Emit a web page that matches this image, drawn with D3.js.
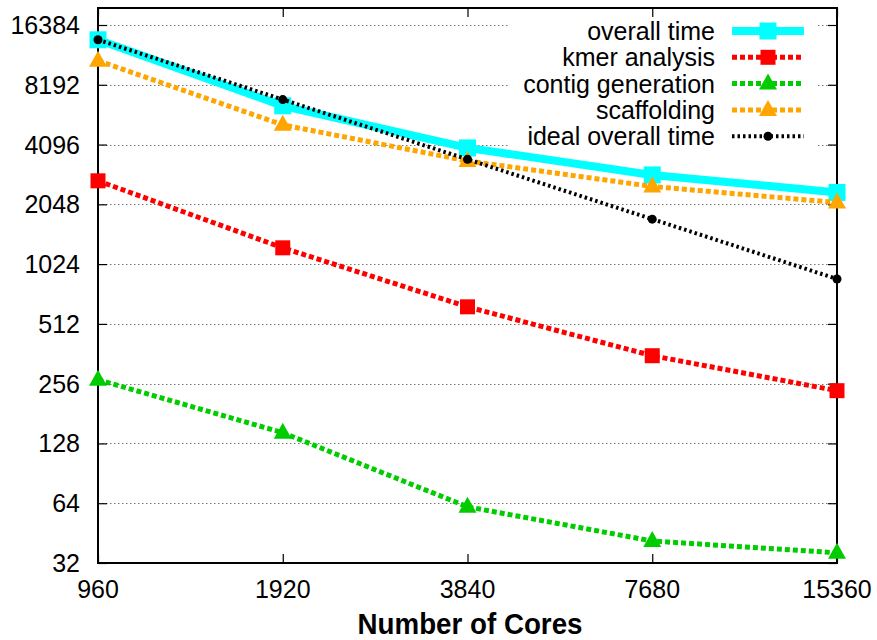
<!doctype html>
<html>
<head>
<meta charset="utf-8">
<title>Scaling by number of cores</title>
<script src="https://d3js.org/d3.v7.min.js"></script>
<style>
  body { margin: 0; background: #fff; }
  text { font-family: "Liberation Sans", Arial, Helvetica, sans-serif; fill: #000; }
</style>
</head>
<body>
<script>

// data
const cores = [960, 1920, 3840, 7680, 15360];
const overallTime = [13800, 6420, 3940, 2880, 2350];
const kmerAnalysis = [2690, 1237, 624, 354, 236];
const contigGeneration = [268, 145, 61.4, 41.3, 36];
const scaffolding = [10830, 5146, 3386, 2520, 2090];
const idealOverall = [13800, 6900, 3450, 1725, 862];
const yTicks = [32, 64, 128, 256, 512, 1024, 2048, 4096, 8192, 16384];

const series = [
  {name: "overall time", values: overallTime, color: "#00ffff", width: 8, dash: null, mark: "bigsquare"},
  {name: "kmer analysis", values: kmerAnalysis, color: "#ff0000", width: 5, dash: "5,3", mark: "square"},
  {name: "contig generation", values: contigGeneration, color: "#00cc00", width: 5, dash: "5,3", mark: "triangle"},
  {name: "scaffolding", values: scaffolding, color: "#ffa500", width: 5, dash: "5,3", mark: "triangle"},
  {name: "ideal overall time", values: idealOverall, color: "#000000", width: 4, dash: "2.5,3", mark: "circle"}
];

const w = 877, h = 640;
const plotL = 98, plotR = 837, plotT = 8, plotB = 563;

const svg = d3.select("body").append("svg")
  .attr("width", w)
  .attr("height", h);

const x = d3.scaleLog().base(2)
  .domain([960, 15360])
  .range([plotL, plotR]);

const y = d3.scaleLog().base(2)
  .domain([32, 16384])
  .range([plotB, 25]);

// dotted grid
svg.append("g")
  .selectAll("line")
  .data(yTicks.slice(1))
  .enter()
  .append("line")
  .attr("x1", plotL).attr("x2", plotR)
  .attr("y1", d => Math.round(y(d)) + 0.5)
  .attr("y2", d => Math.round(y(d)) + 0.5)
  .style("stroke", "#777")
  .style("stroke-width", 1)
  .style("stroke-dasharray", "1.5,2.5");

// the key hides the grid behind it
svg.append("rect")
  .attr("x", 510).attr("y", 13)
  .attr("width", 308).attr("height", 137)
  .style("fill", "#fff");

// left / right axes with inward ticks
const yAxisL = d3.axisRight(y).tickValues(yTicks).tickSize(9).tickFormat("");
const yAxisR = d3.axisLeft(y).tickValues(yTicks).tickSize(9).tickFormat("");
const xAxisB = d3.axisTop(x).tickValues(cores).tickSize(9).tickFormat("");
const xAxisT = d3.axisBottom(x).tickValues(cores).tickSize(9).tickFormat("");

svg.append("g").attr("transform", `translate(${plotL},0)`).call(yAxisL);
svg.append("g").attr("transform", `translate(${plotR},0)`).call(yAxisR);
svg.append("g").attr("transform", `translate(0,${plotB})`).call(xAxisB);
svg.append("g").attr("transform", `translate(0,${plotT})`).call(xAxisT);
svg.selectAll(".domain").remove();
svg.selectAll(".tick line").style("stroke", "#000").style("stroke-width", 1.2);

// frame
svg.append("rect")
  .attr("x", plotL).attr("y", plotT)
  .attr("width", plotR - plotL).attr("height", plotB - plotT)
  .style("fill", "none")
  .style("stroke", "#000")
  .style("stroke-width", 2);

// tick labels
svg.append("g")
  .selectAll("text")
  .data(yTicks)
  .enter()
  .append("text")
  .attr("x", 80)
  .attr("y", d => y(d) + 9)
  .attr("text-anchor", "end")
  .style("font-size", "25px")
  .text(d => d);

svg.append("g")
  .selectAll("text")
  .data(cores)
  .enter()
  .append("text")
  .attr("x", d => x(d))
  .attr("y", 598)
  .attr("text-anchor", "middle")
  .style("font-size", "25px")
  .text(d => d);

svg.append("text")
  .attr("x", 470)
  .attr("y", 634)
  .attr("text-anchor", "middle")
  .attr("textLength", 225)
  .attr("lengthAdjust", "spacingAndGlyphs")
  .style("font-size", "29px")
  .style("font-weight", "bold")
  .text("Number of Cores");

// markers
function drawMark(g, kind, cx, cy, color) {
  if (kind === "bigsquare") {
    g.append("rect").attr("x", cx - 8.5).attr("y", cy - 8.5)
      .attr("width", 17).attr("height", 17).style("fill", color);
  } else if (kind === "square") {
    g.append("rect").attr("x", cx - 7.5).attr("y", cy - 7.5)
      .attr("width", 15).attr("height", 15).style("fill", color);
  } else if (kind === "triangle") {
    g.append("path")
      .attr("d", `M${cx},${cy - 10}L${cx + 9},${cy + 6}L${cx - 9},${cy + 6}Z`)
      .style("fill", color);
  } else {
    g.append("circle").attr("cx", cx).attr("cy", cy).attr("r", 4.5).style("fill", color);
  }
}

const line = d3.line()
  .x((d, i) => x(cores[i]))
  .y(d => y(d));

series.forEach(s => {
  const g = svg.append("g");
  g.append("path")
    .attr("d", line(s.values))
    .style("fill", "none")
    .style("stroke", s.color)
    .style("stroke-width", s.width)
    .style("stroke-dasharray", s.dash);
  s.values.forEach((v, i) => drawMark(g, s.mark, x(cores[i]), y(v), s.color));
});

// key
const rowY = i => 31 + i * 26.3;
series.forEach((s, i) => {
  const g = svg.append("g");
  g.append("text")
    .attr("x", 715)
    .attr("y", rowY(i) + 9)
    .attr("text-anchor", "end")
    .style("font-size", "25px")
    .text(s.name);
  g.append("line")
    .attr("x1", 732).attr("x2", 804)
    .attr("y1", rowY(i)).attr("y2", rowY(i))
    .style("stroke", s.color)
    .style("stroke-width", s.width)
    .style("stroke-dasharray", s.dash);
  drawMark(g, s.mark, 768, rowY(i), s.color);
});

</script>
</body>
</html>
